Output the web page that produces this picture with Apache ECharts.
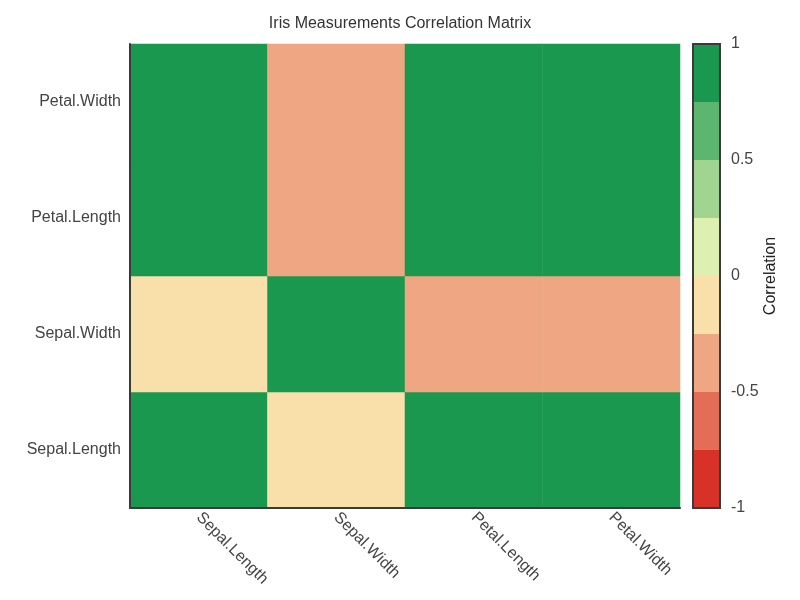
<!DOCTYPE html>
<html>
<head>
<meta charset="utf-8">
<script src="https://cdn.jsdelivr.net/npm/echarts@6/dist/echarts.min.js"></script>
<style>
  html, body { margin: 0; padding: 0; background: #fff; }
  #chart { width: 800px; height: 600px; }
</style>
</head>
<body>
<div id="chart"></div>
<script>
// variables, in axis order (y goes bottom to top)
var variables = ["Sepal.Length", "Sepal.Width", "Petal.Length", "Petal.Width"];

// correlation values [x index, y index, r]
var corrValues = [
    [0, 0, 1.00], [1, 0, -0.12], [2, 0, 0.87], [3, 0, 0.82],
    [0, 1, -0.12], [1, 1, 1.00], [2, 1, -0.43], [3, 1, -0.37],
    [0, 2, 0.87], [1, 2, -0.43], [2, 2, 1.00], [3, 2, 0.96],
    [0, 3, 0.82], [1, 3, -0.37], [2, 3, 0.96], [3, 3, 1.00]
];

// colour scale bins: lower edge, upper edge, colour
var binLower = [-1, -0.75, -0.5, -0.25, 0, 0.25, 0.5, 0.75];
var binUpper = [-0.75, -0.5, -0.25, 0, 0.25, 0.5, 0.75, 1];
var binColors = ["#d73128", "#e36d57", "#eea782", "#f9e0aa", "#ddf0b2", "#a0d490", "#5cb670", "#1a9850"];

var font = "Liberation Sans, Arial, sans-serif";
var chart = echarts.init(document.getElementById("chart"));

// pieces for the heatmap colours
var pieces = [];
for (var i = 0; i < binLower.length; i++) {
    pieces.push({ gte: binLower[i], lte: binUpper[i], color: binColors[i] });
}

// colour bar drawn as stacked bars: positive bins stack up, negative ones down
var barSeries = [];
var order = [4, 5, 6, 7, 3, 2, 1, 0];
order.forEach(function (k) {
    var v = binLower[k] >= 0 ? binUpper[k] - binLower[k] : binLower[k] - binUpper[k];
    barSeries.push({
        type: "bar",
        xAxisIndex: 1,
        yAxisIndex: 1,
        stack: "bar",
        barWidth: "100%",
        silent: true,
        itemStyle: { color: binColors[k] },
        data: [v]
    });
});

var option = {
    backgroundColor: "#fff",
    textStyle: { fontFamily: font },
    title: {
        text: "Iris Measurements Correlation Matrix",
        left: "center",
        top: 11,
        textStyle: { fontSize: 16, fontWeight: "normal", color: "#333", fontFamily: font }
    },
    visualMap: {
        type: "piecewise",
        show: false,
        seriesIndex: 0,
        dimension: 2,
        pieces: pieces
    },
    grid: [
        { left: 130, right: 120, top: 44, bottom: 92 },
        { left: 693, right: 80, top: 44, bottom: 92, show: true, z: 5,
          backgroundColor: "transparent", borderColor: "#3a3a3a", borderWidth: 2 }
    ],
    xAxis: [{
        type: "category",
        gridIndex: 0,
        z: 10,
        data: variables,
        axisLine: { show: true, lineStyle: { color: "#3a3a3a", width: 2 } },
        axisTick: { show: false },
        splitLine: { show: false },
        axisLabel: { rotate: -45, fontSize: 16, color: "#444", margin: 7, fontFamily: font }
    }, {
        type: "category",
        gridIndex: 1,
        data: [""],
        axisLine: { show: false },
        axisTick: { show: false },
        axisLabel: { show: false }
    }],
    yAxis: [{
        type: "category",
        gridIndex: 0,
        z: 10,
        data: variables,
        axisLine: { show: true, lineStyle: { color: "#3a3a3a", width: 2 } },
        axisTick: { show: false },
        splitLine: { show: false },
        axisLabel: { fontSize: 16, color: "#444", margin: 9, fontFamily: font }
    }, {
        type: "value",
        gridIndex: 1,
        position: "right",
        min: -1,
        max: 1,
        interval: 0.5,
        name: "Correlation",
        nameLocation: "middle",
        nameRotate: 90,
        nameGap: 36,
        nameTextStyle: { fontSize: 16, color: "#222", fontFamily: font },
        axisLine: { show: false },
        axisTick: { show: false },
        splitLine: { show: false },
        axisLabel: { fontSize: 16, color: "#444", margin: 11, fontFamily: font }
    }],
    series: [{
        type: "heatmap",
        xAxisIndex: 0,
        yAxisIndex: 0,
        data: corrValues,
        silent: true
    }].concat(barSeries)
};

chart.setOption(option);
</script>
</body>
</html>
